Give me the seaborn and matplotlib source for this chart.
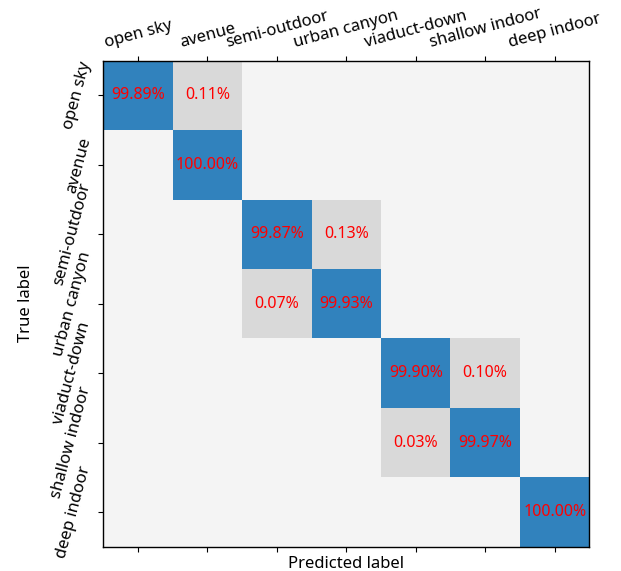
import matplotlib
matplotlib.use("Agg")
import matplotlib.pyplot as plt
from matplotlib.colors import ListedColormap, BoundaryNorm
import numpy as np
import seaborn as sns

# class names (same order for true and predicted)
classes = ["open sky", "avenue", "semi-outdoor", "urban canyon",
           "viaduct-down", "shallow indoor", "deep indoor"]

# row-normalised confusion matrix in percent
row_open_sky = [99.89, 0.11, 0, 0, 0, 0, 0]
row_avenue = [0, 100.00, 0, 0, 0, 0, 0]
row_semi_outdoor = [0, 0, 99.87, 0.13, 0, 0, 0]
row_urban_canyon = [0, 0, 0.07, 99.93, 0, 0, 0]
row_viaduct_down = [0, 0, 0, 0, 99.90, 0.10, 0]
row_shallow_indoor = [0, 0, 0, 0, 0.03, 99.97, 0]
row_deep_indoor = [0, 0, 0, 0, 0, 0, 100.00]

cm = np.array([row_open_sky, row_avenue, row_semi_outdoor, row_urban_canyon,
               row_viaduct_down, row_shallow_indoor, row_deep_indoor])

# text in each cell, empty where nothing was predicted
labels = np.where(cm > 0, np.char.add(np.char.mod("%.2f", cm), "%"), "")

plt.rcParams["font.family"] = ["Noto Sans", "DejaVu Sans"]

cmap = ListedColormap(["#f4f4f4", "#d9d9d9", "#3182bd"])
norm = BoundaryNorm([0, 1e-6, 50, 100.5], cmap.N)

fig = plt.figure(figsize=(6.21, 5.71), dpi=100)
ax = fig.add_axes([0.1664, 0.0426, 0.7826, 0.8511])

sns.heatmap(cm, ax=ax, cmap=cmap, norm=norm, cbar=False,
            annot=labels, fmt="", annot_kws={"color": "red", "fontsize": 11.5},
            xticklabels=classes, yticklabels=classes, square=True)

# put the frame back (heatmap strips it)
for side in ["left", "right", "top", "bottom"]:
    ax.spines[side].set_visible(True)
    ax.spines[side].set_color("black")
    ax.spines[side].set_linewidth(1.0)

ax.tick_params(axis="x", top=True, labeltop=True, bottom=True, labelbottom=False,
               labelsize=12)
ax.tick_params(axis="y", left=True, labelsize=12)
plt.setp(ax.get_xticklabels(), rotation=15, ha="center")
plt.setp(ax.get_yticklabels(), rotation=75, va="center")

ax.set_xlabel("Predicted label", fontsize=12, labelpad=3)
ax.set_ylabel("True label", fontsize=12, labelpad=10)

fig.savefig("out.png", dpi=100)
